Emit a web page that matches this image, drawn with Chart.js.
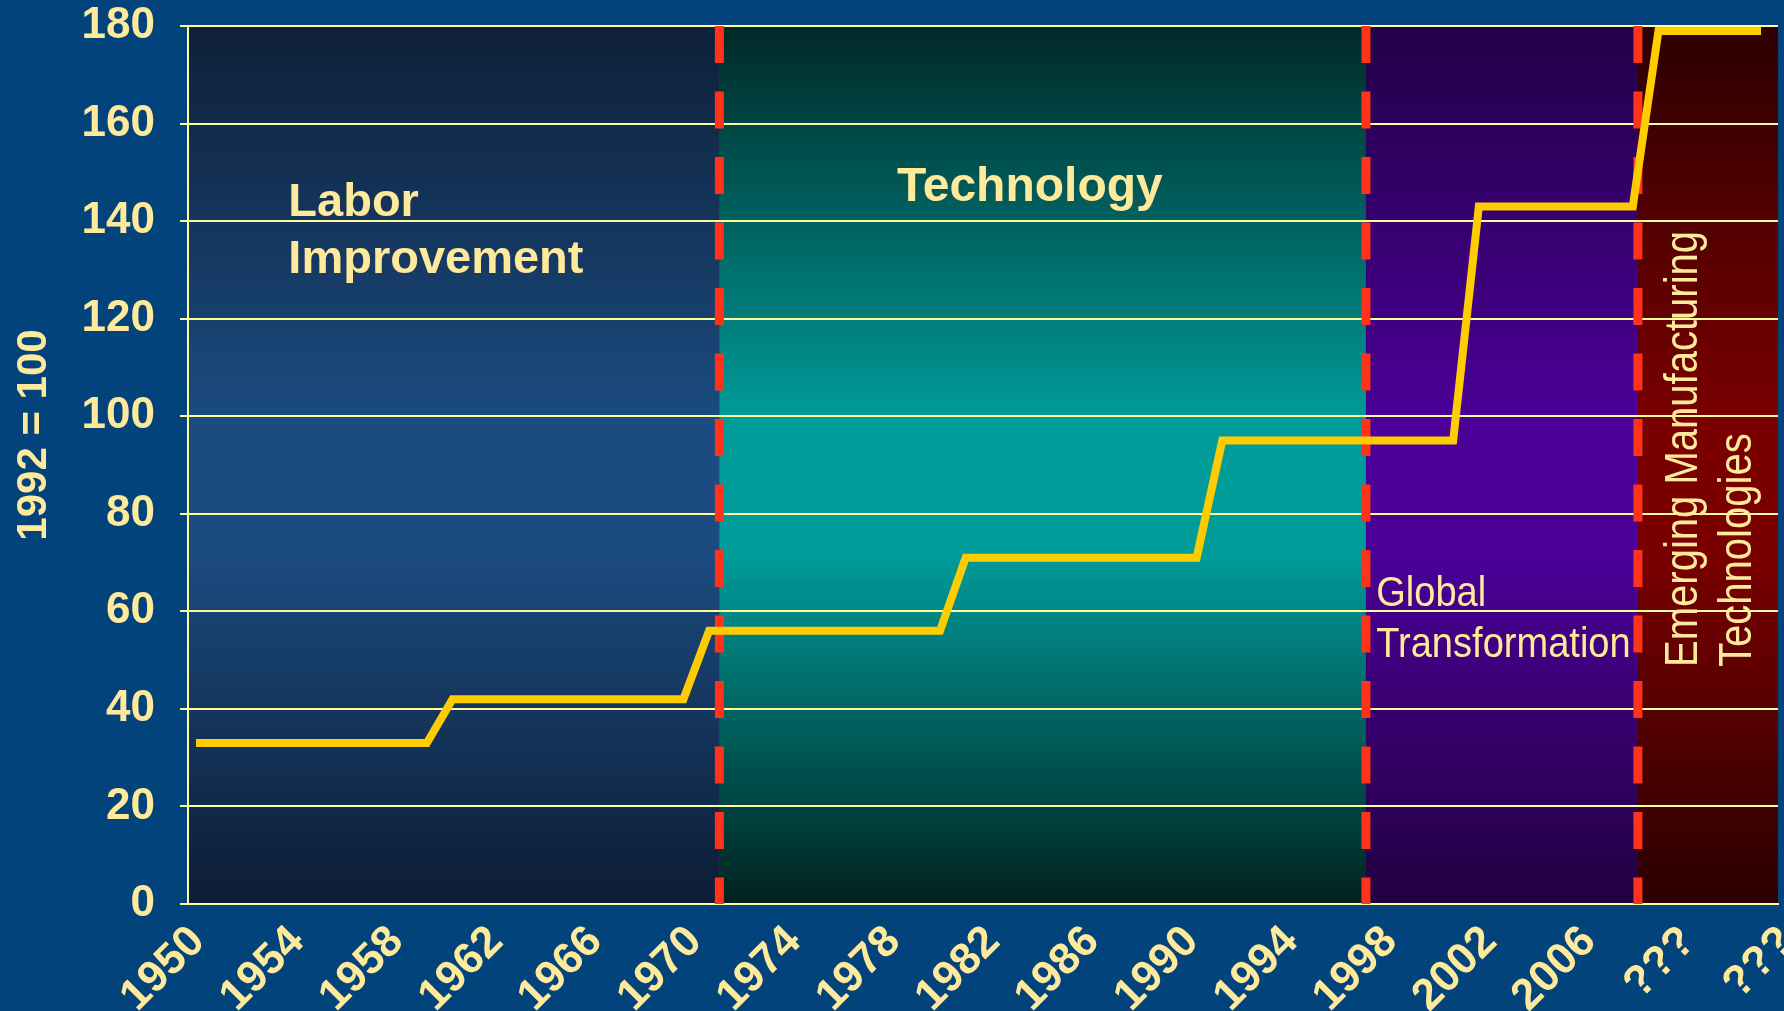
<!DOCTYPE html>
<html>
<head>
<meta charset="utf-8">
<title>Productivity eras</title>
<script src="https://cdn.jsdelivr.net/npm/chart.js@4.4.1/dist/chart.umd.min.js"></script>
<style>
  html, body { margin: 0; padding: 0; background: #02437B; }
  canvas { display: block; }
</style>
</head>
<body>
<canvas id="eraChart" width="1784" height="1011"></canvas>
<script>
// Data
const years = [1950, 1951, 1952, 1953, 1954, 1955, 1956, 1957, 1958, 1959,
    1960, 1961, 1962, 1963, 1964, 1965, 1966, 1967, 1968, 1969,
    1970, 1971, 1972, 1973, 1974, 1975, 1976, 1977, 1978, 1979,
    1980, 1981, 1982, 1983, 1984, 1985, 1986, 1987, 1988, 1989,
    1990, 1991, 1992, 1993, 1994, 1995, 1996, 1997, 1998, 1999,
    2000, 2001, 2002, 2003, 2004, 2005, 2006,
    2007, 2008, 2009, 2010, 2011];
const indexValues = [33, 33, 33, 33, 33, 33, 33, 33, 33, 33,
    42, 42, 42, 42, 42, 42, 42, 42, 42, 42,
    56, 56, 56, 56, 56, 56, 56, 56, 56, 56,
    71, 71, 71, 71, 71, 71, 71, 71, 71, 71,
    95, 95, 95, 95, 95, 95, 95, 95, 95, 95,
    143, 143, 143, 143, 143, 143, 143,
    179, 179, 179, 179, 179];
const tickLabels = ['1950', '1954', '1958', '1962', '1966', '1970', '1974', '1978',
    '1982', '1986', '1990', '1994', '1998', '2002', '2006', '???', '???'];
const eraBreaks = [1970.4, 1995.6, 2006.2];
const yAxisTitle = '1992 = 100';

// Looks
const txt = '#FFE99B';
const gridCol = '#FFFF99';
const font = '"Liberation Sans", Arial, sans-serif';
// top, middle, bottom of each era band
const eraColors = [
    ['#0E2038', '#1B4B80', '#0D1C34'],
    ['#002927', '#009C9A', '#00221F'],
    ['#230047', '#4B0098', '#220040'],
    ['#2C0000', '#7A0000', '#2A0000']
];

const erasPlugin = {
    id: 'eras',
    beforeDraw(chart) {
        const {ctx, chartArea: a, scales: {x}} = chart;
        ctx.save();
        ctx.fillStyle = '#02437B';
        ctx.fillRect(0, 0, chart.width, chart.height);
        const edges = [a.left, ...eraBreaks.map(v => x.getPixelForValue(v)), a.right];
        eraColors.forEach((c, i) => {
            const g = ctx.createLinearGradient(0, a.top, 0, a.bottom);
            g.addColorStop(0, c[0]);
            g.addColorStop(0.45, c[1]);
            g.addColorStop(0.6, c[1]);
            g.addColorStop(1, c[2]);
            ctx.fillStyle = g;
            ctx.fillRect(edges[i], a.top, edges[i + 1] - edges[i], a.bottom - a.top);
        });
        ctx.restore();
    },
    beforeDatasetsDraw(chart) {
        // red dashed era dividers, under the line
        const {ctx, chartArea: a, scales: {x}} = chart;
        ctx.save();
        ctx.strokeStyle = '#FF3319';
        ctx.lineWidth = 9;
        ctx.setLineDash([37, 28.5]);
        eraBreaks.forEach(v => {
            const px = x.getPixelForValue(v);
            ctx.beginPath();
            ctx.moveTo(px, a.top);
            ctx.lineTo(px, a.bottom);
            ctx.stroke();
        });
        ctx.restore();
    },
    afterDatasetsDraw(chart) {
        const {ctx, scales: {x, y}} = chart;
        ctx.save();
        ctx.fillStyle = txt;
        ctx.textBaseline = 'alphabetic';

        // bold era names
        ctx.font = 'bold 47px ' + font;
        ctx.textAlign = 'left';
        ctx.fillText('Labor', x.getPixelForValue(1953.6), y.getPixelForValue(141.1));
        ctx.fillText('Improvement', x.getPixelForValue(1953.6), y.getPixelForValue(129.4));
        ctx.font = 'bold 48px ' + font;
        ctx.textAlign = 'center';
        ctx.fillText('Technology', x.getPixelForValue(1982.5), y.getPixelForValue(144.2));

        // narrow era names
        ctx.textAlign = 'left';
        ctx.font = '43px ' + font;
        [['Global', 61.0], ['Transformation', 50.6]].forEach(([t, v]) => {
            ctx.save();
            ctx.translate(x.getPixelForValue(1996.0), y.getPixelForValue(v));
            ctx.scale(0.885, 1);
            ctx.fillText(t, 0, 0);
            ctx.restore();
        });
        ctx.font = '46px ' + font;
        [['Emerging Manufacturing', 2008.5], ['Technologies', 2010.6]].forEach(([t, v]) => {
            ctx.save();
            ctx.translate(x.getPixelForValue(v), y.getPixelForValue(48.6));
            ctx.rotate(-Math.PI / 2);
            ctx.scale(0.87, 1);
            ctx.fillText(t, 0, 0);
            ctx.restore();
        });
        ctx.restore();
    },
    afterDraw(chart) {
        const {ctx} = chart;
        ctx.save();
        ctx.fillStyle = txt;
        ctx.font = 'bold 42px ' + font;
        ctx.textAlign = 'center';
        ctx.textBaseline = 'middle';
        ctx.translate(34, 435);
        ctx.rotate(-Math.PI / 2);
        ctx.fillText(yAxisTitle, 0, 0);
        ctx.restore();
    }
};

const ctx = document.getElementById('eraChart').getContext('2d');
new Chart(ctx, {
    type: 'line',
    data: {
        datasets: [{
            label: 'Index',
            data: years.map((yr, i) => ({x: yr, y: indexValues[i]})),
            xAxisID: 'x',
            yAxisID: 'y',
            borderColor: '#FFCC00',
            borderWidth: 8,
            pointRadius: 0,
            tension: 0,
            fill: false
        }]
    },
    options: {
        responsive: false,
        animation: false,
        layout: { padding: { top: 26, right: 6, left: 0, bottom: 0 } },
        plugins: {
            legend: { display: false },
            tooltip: { enabled: false }
        },
        scales: {
            x: {
                type: 'linear',
                display: false,
                min: 1949.69,
                max: 2011.66
            },
            xl: {
                type: 'category',
                position: 'bottom',
                labels: tickLabels,
                offset: false,
                grid: { display: false },
                border: { display: true, color: gridCol, width: 2 },
                ticks: {
                    autoSkip: false,
                    maxRotation: 45,
                    minRotation: 45,
                    padding: 4,
                    labelOffset: 10,
                    color: txt,
                    font: { family: font, size: 44, weight: 'bold' }
                },
                afterFit(scale) {
                    scale.height = 107;
                    scale.paddingLeft = 0;
                    scale.paddingRight = 0;
                }
            },
            y: {
                min: 0,
                max: 180,
                ticks: {
                    stepSize: 20,
                    padding: 25,
                    color: txt,
                    font: { family: font, size: 44, weight: 'bold' }
                },
                grid: { color: gridCol, lineWidth: 2, tickLength: 8, tickColor: gridCol },
                border: { color: gridCol, width: 2 },
                afterFit(scale) {
                    scale.width = 188;
                    scale.paddingTop = 0;
                    scale.paddingBottom = 0;
                }
            }
        }
    },
    plugins: [erasPlugin]
});
</script>
</body>
</html>
